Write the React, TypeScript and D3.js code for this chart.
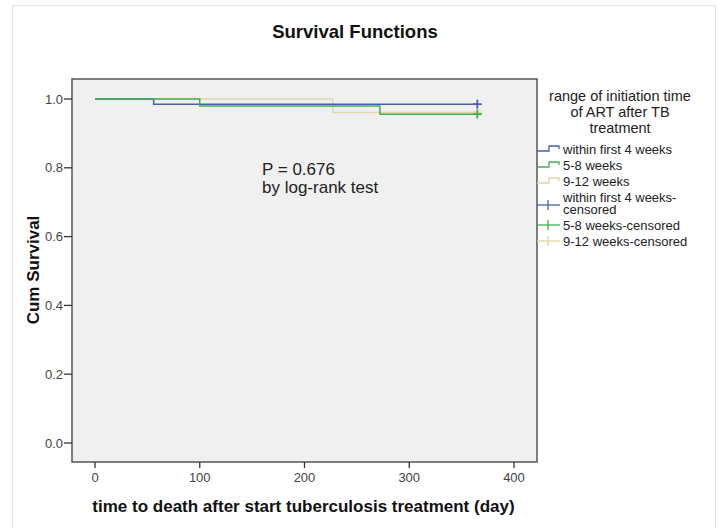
import React from "react";
import * as d3 from "d3";

const title = "Survival Functions";
const xLabel = "time to death after start tuberculosis treatment (day)";
const yLabel = "Cum Survival";
const legendTitle = ["range of initiation time", "of ART after TB", "treatment"];
const groupNames = ["within first 4 weeks", "5-8 weeks", "9-12 weeks"];
const groupColors = ["#4a5fae", "#45ad52", "#dcd7a6"];
const xTicks = [0, 100, 200, 300, 400];
const yTicks = [0, 0.2, 0.4, 0.6, 0.8, 1.0];

// Kaplan-Meier step points (time in days, cumulative survival)
const blueTimes = [0, 56, 365];
const blueSurv = [1, 0.985, 0.985];
const greenTimes = [0, 100, 272, 365];
const greenSurv = [1, 0.98, 0.956, 0.956];
const beigeTimes = [0, 227, 365];
const beigeSurv = [1, 0.961, 0.961];
const censorTime = 365;

const series = [
  { name: groupNames[2], color: groupColors[2], t: beigeTimes, s: beigeSurv },
  { name: groupNames[0], color: groupColors[0], t: blueTimes, s: blueSurv },
  { name: groupNames[1], color: groupColors[1], t: greenTimes, s: greenSurv },
];

const legendItems = [
  { lines: [groupNames[0]], color: groupColors[0], kind: "step" },
  { lines: [groupNames[1]], color: groupColors[1], kind: "step" },
  { lines: [groupNames[2]], color: groupColors[2], kind: "step" },
  { lines: [groupNames[0] + "-", "censored"], color: groupColors[0], kind: "cross" },
  { lines: [groupNames[1] + "-censored"], color: groupColors[1], kind: "cross" },
  { lines: [groupNames[2] + "-censored"], color: groupColors[2], kind: "cross" },
];

export default function App() {
  const W = 718, H = 528;
  const plot = { left: 72, top: 79, right: 537, bottom: 462 };
  const x = d3.scaleLinear().domain([0, 400]).range([95, 514]);
  const y = d3.scaleLinear().domain([0, 1]).range([443, 99]);
  const font = "'Liberation Sans', Arial, sans-serif";
  const line = d3.line<[number, number]>().x(d => x(d[0])).y(d => y(d[1])).curve(d3.curveStepAfter);

  const legendY = [154, 170, 186, 202, 230, 246];
  const crossY = [0, 0, 0, 205, 225, 241];

  return (
    <svg width={W} height={H} style={{ position: "absolute", left: 0, top: 0, background: "#fff" }} fontFamily={font}>
      <rect x={12.5} y={5.5} width={703} height={540} fill="#fff" stroke="#e6e6e6" strokeWidth={1} />
      <text x={355} y={38} textAnchor="middle" fontSize={18.5} fontWeight="bold" fill="#111">{title}</text>
      <rect x={plot.left} y={plot.top} width={plot.right - plot.left} height={plot.bottom - plot.top} fill="#f0f0f0" stroke="#555" strokeWidth={1.5} />
      {yTicks.map(v => (
        <g key={"y" + v}>
          <line x1={plot.left - 8} x2={plot.left} y1={y(v)} y2={y(v)} stroke="#333" strokeWidth={1.3} />
          <text x={plot.left - 9} y={y(v) + 4.5} textAnchor="end" fontSize={13} fill="#444">{v.toFixed(1)}</text>
        </g>
      ))}
      {xTicks.map(v => (
        <g key={"x" + v}>
          <line x1={x(v)} x2={x(v)} y1={plot.bottom} y2={plot.bottom + 6} stroke="#333" strokeWidth={1.3} />
          <text x={x(v)} y={plot.bottom + 20} textAnchor="middle" fontSize={13} fill="#444">{v}</text>
        </g>
      ))}
      <text x={303.5} y={512} textAnchor="middle" fontSize={17} fontWeight="bold" fill="#111">{xLabel}</text>
      <text transform={`translate(39,270) rotate(-90)`} textAnchor="middle" fontSize={17} fontWeight="bold" fill="#111">{yLabel}</text>
      {series.map(sr => {
        const pts: [number, number][] = sr.t.map((t, i) => [t, sr.s[i]]);
        return <path key={sr.name} d={line(pts) || ""} fill="none" stroke={sr.color} strokeWidth={1.5} />;
      })}
      {series.map(sr => {
        const cx = x(censorTime), cy = y(sr.s[sr.s.length - 1]);
        return (
          <g key={"c" + sr.name} stroke={sr.color} strokeWidth={1.8}>
            <line x1={cx - 4.5} x2={cx + 4.5} y1={cy} y2={cy} />
            <line x1={cx} x2={cx} y1={cy - 4.5} y2={cy + 4.5} />
          </g>
        );
      })}
      <text x={262} y={175} fontSize={17} fill="#222">P = 0.676</text>
      <text x={262} y={193} fontSize={17} fill="#222">by log-rank test</text>
      {legendTitle.map((l, i) => (
        <text key={l} x={620} y={101 + i * 16} textAnchor="middle" fontSize={14.5} fill="#222">{l}</text>
      ))}
      {legendItems.map((it, i) => {
        const ty = legendY[i];
        const ly = it.kind === "step" ? ty - 4 : crossY[i];
        return (
          <g key={i}>
            {it.kind === "step" ? (
              <path d={`M537,${ly + 1}H549V${ly - 4}H559V${ly - 1}`} fill="none" stroke={it.color} strokeWidth={1.3} />
            ) : (
              <g stroke={it.color} strokeWidth={1.3}>
                <line x1={537} x2={560} y1={ly} y2={ly} />
                <line x1={548} x2={548} y1={ly - 5} y2={ly + 5} />
              </g>
            )}
            {it.lines.map((l, j) => (
              <text key={j} x={563} y={ty + j * 12} fontSize={13} fill="#222">{l}</text>
            ))}
          </g>
        );
      })}
    </svg>
  );
}
